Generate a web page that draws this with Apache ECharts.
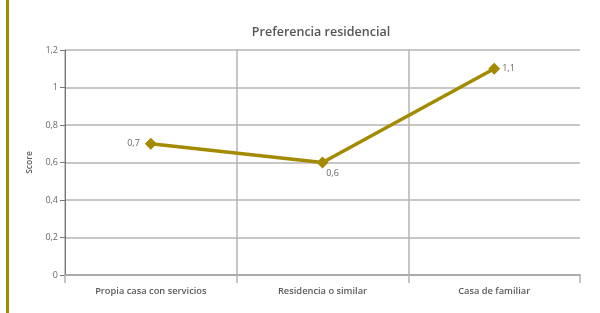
<!DOCTYPE html>
<html>
<head>
<meta charset="utf-8">
<script src="https://cdn.jsdelivr.net/npm/echarts@6/dist/echarts.min.js"></script>
<style>
  html, body { margin: 0; padding: 0; background: #fff; }
  #chart { width: 600px; height: 313px; }
</style>
</head>
<body>
<div id="chart"></div>
<script>
"use strict";

var categories = ['Propia casa con servicios', 'Residencia o similar', 'Casa de familiar'];
var scores = [0.7, 0.6, 1.1];
var labelPositions = ['left', 'bottomRight', 'right'];

var lineColor = '#a38a00';
var gridColor = '#b4b4b4';
var textColor = '#5a5a5a';
var fontName = 'Open Sans';

function fmt(v) {
	return String(+Number(v).toFixed(1)).replace('.', ',');
}

function labelFor(pos) {
	if (pos === 'bottomRight') {
		return { position: 'bottom', offset: [10, -5] };
	}
	if (pos === 'left') {
		return { position: 'left', distance: 5 };
	}
	return { position: pos, distance: 2 };
}

var seriesData = [];
for (var i = 0; i < scores.length; i++) {
	seriesData.push({ value: scores[i], label: labelFor(labelPositions[i]) });
}

var myChart = echarts.init(document.getElementById('chart'));

myChart.setOption({
	animation: false,
	title: {
		text: 'Preferencia residencial',
		left: 316,
		textAlign: 'center',
		top: 21,
		textStyle: { fontFamily: fontName, fontSize: 12.5, fontWeight: 600, color: '#555' }
	},
	graphic: [{
		type: 'rect',
		shape: { x: 6, y: 0, width: 3, height: 313 },
		style: { fill: '#a38a00' }
	}],
	grid: { left: 65, right: 20, top: 50, bottom: 38 },
	xAxis: {
		type: 'category',
		data: categories,
		boundaryGap: true,
		axisLine: { lineStyle: { color: '#aaa', width: 2 } },
		axisTick: { show: true, length: 8, lineStyle: { color: gridColor, width: 1.5 } },
		splitLine: { show: true, showMaxLine: false, lineStyle: { color: gridColor, width: 1.5 } },
		axisLabel: { fontFamily: fontName, fontSize: 9.3, fontWeight: 600, color: textColor, margin: 12 }
	},
	yAxis: {
		type: 'value',
		min: 0,
		max: 1.2,
		interval: 0.2,
		name: 'Score',
		nameLocation: 'middle',
		nameGap: 25,
		nameTextStyle: { fontFamily: fontName, fontSize: 8.5, fontWeight: 600, color: textColor },
		axisLine: { show: true, lineStyle: { color: '#777', width: 1 } },
		axisTick: { show: true, length: 5, lineStyle: { color: '#777' } },
		splitLine: { lineStyle: { color: gridColor, width: 1.5 } },
		axisLabel: { fontFamily: fontName, fontSize: 9, color: '#666', margin: 7, formatter: fmt }
	},
	series: [{
		type: 'line',
		data: seriesData,
		symbol: 'diamond',
		symbolSize: 12,
		lineStyle: { color: lineColor, width: 3.5 },
		itemStyle: { color: lineColor },
		label: {
			show: true,
			fontFamily: fontName,
			fontSize: 9,
			color: '#666',
			formatter: function(p) { return fmt(p.value); }
		}
	}]
});
</script>
</body>
</html>
